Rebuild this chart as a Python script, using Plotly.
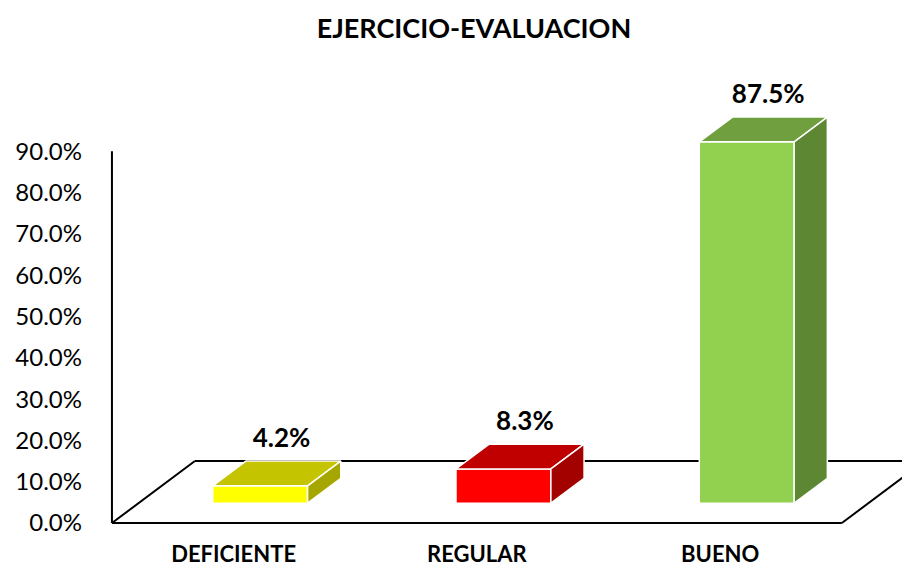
import plotly.graph_objects as go

# ---------------- data ----------------
categories = ["DEFICIENTE", "REGULAR", "BUENO"]
values = [4.2, 8.3, 87.5]          # percent
value_labels = ["4.2%", "8.3%", "87.5%"]
front_colors = ["#FFFF00", "#FF0000", "#92D050"]
top_colors = ["#C4C400", "#C00000", "#6F9F3E"]
side_colors = ["#A6A600", "#A30000", "#5D8733"]
y_tick_values = [0, 10, 20, 30, 40, 50, 60, 70, 80, 90]
y_tick_labels = ["0.0%", "10.0%", "20.0%", "30.0%", "40.0%",
                 "50.0%", "60.0%", "70.0%", "80.0%", "90.0%"]
title_text = "EJERCICIO-EVALUACION"

# ---------------- 3D-look geometry (in axis units) ----------------
FLOOR_DX = 0.341      # floor depth, horizontal component (category units)
FLOOR_DY = 15.0       # floor depth, vertical component (percent units)
D_FRONT = 0.32        # bar front position as fraction of floor depth
D_BACK = 0.72         # bar back position
BAR_W = 0.39
X_MIN, X_MAX = -0.5, 2.5
Y_TOP = 90

base = D_FRONT * FLOOR_DY
bdx = (D_BACK - D_FRONT) * FLOOR_DX
bdy = (D_BACK - D_FRONT) * FLOOR_DY
xs = [i + D_FRONT * FLOOR_DX for i in range(len(categories))]

fig = go.Figure()

# front faces
fig.add_trace(go.Bar(
    x=xs, y=values, base=base, width=BAR_W,
    marker=dict(color=front_colors, line=dict(color="white", width=1.5)),
    hoverinfo="skip", showlegend=False,
))

# top and side faces
for xc, v, tc, sc in zip(xs, values, top_colors, side_colors):
    xl, xr = xc - BAR_W / 2, xc + BAR_W / 2
    yt = base + v
    fig.add_trace(go.Scatter(
        x=[xl, xr, xr + bdx, xl + bdx, xl],
        y=[yt, yt, yt + bdy, yt + bdy, yt],
        fill="toself", fillcolor=tc, mode="lines",
        line=dict(color="white", width=1.5),
        hoverinfo="skip", showlegend=False,
    ))
    fig.add_trace(go.Scatter(
        x=[xr, xr, xr + bdx, xr + bdx, xr],
        y=[base, yt, yt + bdy, base + bdy, base],
        fill="toself", fillcolor=sc, mode="lines",
        line=dict(color="white", width=1.5),
        hoverinfo="skip", showlegend=False,
    ))

# data labels
fig.add_trace(go.Scatter(
    x=[xc + bdx / 2 + 0.02 for xc in xs],
    y=[base + v + bdy + 4.9 for v in values],
    mode="text", text=value_labels, textposition="middle center",
    textfont=dict(family="Lato", size=26, color="#000000", weight="bold"),
    hoverinfo="skip", showlegend=False,
))

# floor outline and vertical axis line (below the bars)
line_style = dict(color="#000000", width=2)
shapes = [
    dict(type="line", xref="x", yref="y", x0=X_MIN, y0=0, x1=X_MAX, y1=0, line=line_style, layer="below"),
    dict(type="line", xref="x", yref="y", x0=X_MIN, y0=0, x1=X_MIN + FLOOR_DX, y1=FLOOR_DY, line=line_style, layer="below"),
    dict(type="line", xref="x", yref="y", x0=X_MIN + FLOOR_DX, y0=FLOOR_DY, x1=X_MAX + FLOOR_DX, y1=FLOOR_DY, line=line_style, layer="below"),
    dict(type="line", xref="x", yref="y", x0=X_MAX, y0=0, x1=X_MAX + FLOOR_DX, y1=FLOOR_DY, line=line_style, layer="below"),
    dict(type="line", xref="x", yref="y", x0=X_MIN, y0=0, x1=X_MIN, y1=Y_TOP, line=line_style, layer="below"),
]

# the page body adds an 8px margin, so the figure is 8px smaller on each side
fig.update_layout(
    width=902, height=561,
    margin=dict(l=102, r=0, t=62, b=45),
    paper_bgcolor="white", plot_bgcolor="white",
    shapes=shapes,
    title=dict(text=title_text, x=0.5166, xanchor="center", y=0.9626, yanchor="middle",
               font=dict(family="Lato", size=27, color="#000000", weight="bold")),
    xaxis=dict(range=[-0.508, -0.508 + 800 / 243.3], showgrid=False, zeroline=False,
               showline=False, tickmode="array", tickvals=list(range(len(categories))),
               ticktext=categories, ticks="", ticklabelstandoff=15, automargin=False,
               tickfont=dict(family="Lato", size=22, color="#000000", weight="bold")),
    yaxis=dict(range=[-0.24, -0.24 + 454 / 4.13], showgrid=False, zeroline=False,
               showline=False, tickmode="array", tickvals=y_tick_values,
               ticktext=y_tick_labels, ticks="", ticklabelstandoff=27, automargin=False,
               tickfont=dict(family="Lato", size=24, color="#000000")),
)

fig.write_html("out.html")
